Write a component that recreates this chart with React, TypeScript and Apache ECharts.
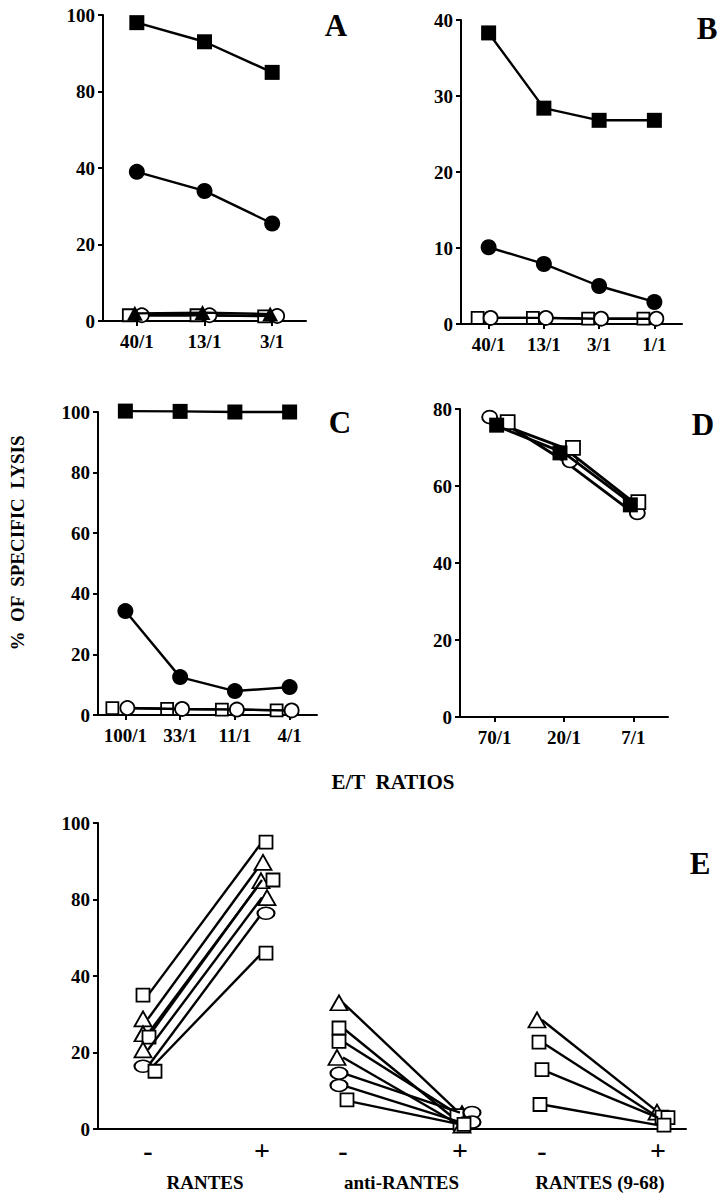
import React, { useEffect, useRef } from 'react';
import * as echarts from 'echarts';

// ---------- Panel A ----------
const catsA = ['40/1', '13/1', '3/1'];
const aFilledSquare = [98, 93, 85];
const aFilledCircle = [39, 34, 25.5];
const aOpenSquare = [1.5, 1.5, 1.2];
const aOpenCircle = [1.5, 1.5, 1.3];
const aFilledTriangle = [2.0, 2.2, 1.8];

// ---------- Panel B ----------
const catsB = ['40/1', '13/1', '3/1', '1/1'];
const bFilledSquare = [38.3, 28.4, 26.8, 26.8];
const bFilledCircle = [10.1, 7.9, 5.0, 2.9];
const bOpenSquare = [0.8, 0.8, 0.7, 0.7];
const bOpenCircle = [0.8, 0.8, 0.7, 0.7];

// ---------- Panel C ----------
const catsC = ['100/1', '33/1', '11/1', '4/1'];
const cFilledSquare = [100.3, 100.2, 100, 100];
const cFilledCircle = [34.3, 12.5, 7.9, 9.2];
const cOpenSquare = [2.3, 2.0, 1.8, 1.5];
const cOpenCircle = [2.3, 2.0, 1.8, 1.5];

// ---------- Panel D ----------
const catsD = ['70/1', '20/1', '7/1'];
const dOpenCircle = [77.9, 66.5, 53];
const dFilledSquare = [75.8, 68.6, 55.1];
const dOpenSquare = [76.6, 69.9, 55.8];

// ---------- Panel E ----------
const eCats = ['-', '+'];
const eGroups = ['RANTES', 'anti-RANTES', 'RANTES (9-68)'];
const eRantes = [
  [35, 95],
  [28.8, 89.7],
  [24.9, 84.9],
  [24.0, 85.1],
  [20.7, 80.5],
  [16.4, 72.8],
  [15.1, 52],
];
const eAntiRantes = [
  [33, 4],
  [26.4, 1.5],
  [22.9, 3.5],
  [18.7, 1.0],
  [14.6, 4.3],
  [11.4, 1.8],
  [7.6, 1.2],
];
const eRantes968 = [
  [28.5, 4.4],
  [22.7, 3.1],
  [15.5, 3.0],
  [6.4, 1.0],
];

// tick labels of the broken axes (A and E): 60 is skipped
const brokenTicks = ['0', '20', '40', '80', '100'];

// ---------- styles ----------
const FONT = '"Liberation Serif", "Times New Roman", serif';
const ELLIPSE =
  'path://M10,0C15.5,0,20,4.5,20,10C20,15.5,15.5,20,10,20C4.5,20,0,15.5,0,10C0,4.5,4.5,0,10,0Z';

type Marker = { symbol: string; size: any; fill: string; open: boolean };
const MK: Record<string, Marker> = {
  fsq: { symbol: 'rect', size: 15, fill: '#000', open: false },
  fci: { symbol: 'circle', size: 16, fill: '#000', open: false },
  ftr: { symbol: 'triangle', size: [16, 15], fill: '#000', open: false },
  osq: { symbol: 'rect', size: 12, fill: '#fff', open: true },
  oci: { symbol: 'circle', size: 14, fill: '#fff', open: true },
  Esq: { symbol: 'rect', size: 13, fill: '#fff', open: true },
  Etr: { symbol: 'triangle', size: [17, 15], fill: '#fff', open: true },
  Eel: { symbol: ELLIPSE, size: [17, 12], fill: '#fff', open: true },
  Dosq: { symbol: 'rect', size: 14, fill: '#fff', open: true },
  Doci: { symbol: ELLIPSE, size: [15, 13], fill: '#fff', open: true },
};

const eRantesMarkers = ['Esq', 'Etr', 'Etr', 'Esq', 'Etr', 'Eel', 'Esq'];
const eRantesOffsets = [[-5, 4], [-5, 1], [-5, -1], [1, 11], [-5, 5], [-5, 4], [7, 4]];
const eAntiMarkers = ['Etr', 'Esq', 'Esq', 'Etr', 'Eel', 'Eel', 'Esq'];
const eAntiOffsets = [[-4, 2], [-4, 0], [-4, -3], [-6, 2], [-4, 12], [-4, 12], [4, 4]];
const e968Markers = ['Etr', 'Esq', 'Esq', 'Esq'];
const e968Offsets = [[-5, -1], [-3, 4], [0, 10], [-2, 6]];

// broken axis: 40 -> 80 is compressed into one tick interval
const brk = (v: number) => (v <= 40 ? v : v >= 80 ? v - 20 : 40 + (v - 40) / 2);
const ident = (v: number) => v;

const LW = 2.4;

function series(
  values: number[],
  axis: number,
  m: Marker,
  offsets: number[] | null,
  tf: (v: number) => number,
  lineWidth = LW,
  z = 2
) {
  return {
    type: 'line',
    xAxisIndex: axis,
    yAxisIndex: axis,
    clip: false,
    silent: true,
    z,
    symbol: m.symbol,
    symbolSize: m.size,
    showSymbol: true,
    data: values.map((v, i) => ({
      value: tf(v),
      symbolOffset: [offsets ? offsets[i] : 0, 0],
    })),
    itemStyle: {
      color: m.fill,
      borderColor: '#000',
      borderWidth: m.open ? 1.8 : 0,
      opacity: 1,
    },
    lineStyle: { color: '#000', width: lineWidth },
    emphasis: { disabled: true },
  };
}

const labelStyle = { color: '#000', fontFamily: FONT, fontWeight: 'bold', fontSize: 19 };
const axisLine = { show: true, onZero: false, lineStyle: { color: '#000', width: 2 } };

function catAxis(data: string[], idx: number) {
  return {
    type: 'category',
    gridIndex: idx,
    data,
    boundaryGap: true,
    axisLine,
    axisTick: { show: true, alignWithLabel: true, length: 5, lineStyle: { color: '#000', width: 2 } },
    axisLabel: { ...labelStyle, margin: 11, interval: 0 },
    splitLine: { show: false },
  };
}

function valAxis(idx: number, max: number, interval: number, labels?: string[]) {
  return {
    type: 'value',
    gridIndex: idx,
    min: 0,
    max,
    interval,
    axisLine,
    axisTick: { show: true, length: 5, lineStyle: { color: '#000', width: 2 } },
    axisLabel: {
      ...labelStyle,
      margin: 8,
      formatter: labels ? (v: number) => labels[Math.round(v / interval)] : undefined,
    },
    splitLine: { show: false },
  };
}

export default function App() {
  const ref = useRef<HTMLDivElement>(null);

  useEffect(() => {
    if (!ref.current) return;
    const chart = echarts.init(ref.current, null, { renderer: 'svg' });

    const grids = [
      { left: 103, top: 15, width: 203, height: 306 }, // A
      { left: 461, top: 20, width: 221, height: 304 }, // B
      { left: 98, top: 412, width: 219, height: 303 }, // C
      { left: 460, top: 409, width: 208, height: 308 }, // D
      { left: 98, top: 823, width: 588, height: 306 }, // E main
      { left: 148, top: 823, width: 114, height: 306 }, // E RANTES
      { left: 343, top: 823, width: 117, height: 306 }, // E anti-RANTES
      { left: 542, top: 823, width: 116, height: 306 }, // E RANTES (9-68)
    ].map((g) => ({ ...g, outerBoundsMode: 'none', containLabel: false }));

    const eSubX = eGroups.map((name, i) => ({
      type: 'category',
      gridIndex: 5 + i,
      data: eCats,
      boundaryGap: false,
      axisLine: { show: false },
      axisTick: { show: false },
      axisLabel: { color: '#000', fontFamily: FONT, fontWeight: 'bold', fontSize: 28, margin: 7, interval: 0 },
      splitLine: { show: false },
      name,
      nameLocation: 'middle',
      nameGap: 44,
      nameTextStyle: { color: '#000', fontFamily: FONT, fontWeight: 'bold', fontSize: 19 },
    }));
    const eSubY = eGroups.map((_, i) => ({
      type: 'value',
      gridIndex: 5 + i,
      min: 0,
      max: 80,
      show: false,
    }));

    const xAxis = [
      catAxis(catsA, 0),
      catAxis(catsB, 1),
      catAxis(catsC, 2),
      catAxis(catsD, 3),
      {
        type: 'value',
        gridIndex: 4,
        min: 0,
        max: 1,
        axisLine,
        axisTick: { show: false },
        axisLabel: { show: false },
        splitLine: { show: false },
      },
      ...eSubX,
    ];
    const yAxis = [
      valAxis(0, 80, 20, brokenTicks),
      valAxis(1, 40, 10),
      valAxis(2, 100, 20),
      valAxis(3, 80, 20),
      valAxis(4, 80, 20, brokenTicks),
      ...eSubY,
    ];

    const eSeries = (
      rows: number[][],
      axis: number,
      markers: string[],
      offsets: number[][]
    ) =>
      rows.map((r, i) => {
        const s: any = series(r, axis, MK[markers[i]], null, brk, LW, 3 + i);
        s.data = r.map((v, j) => ({ value: brk(v), symbolOffset: [offsets[i][j], 0] }));
        return s;
      });

    const seriesList = [
      // A
      series(aFilledSquare, 0, MK.fsq, null, brk),
      series(aFilledCircle, 0, MK.fci, null, brk),
      series(aOpenSquare, 0, MK.osq, [-8, -8, -8], brk, LW, 3),
      series(aOpenCircle, 0, MK.oci, [5, 5, 5], brk, LW, 4),
      series(aFilledTriangle, 0, MK.ftr, [-2, -2, -2], brk, LW, 5),
      // B
      series(bFilledSquare, 1, MK.fsq, null, ident),
      series(bFilledCircle, 1, MK.fci, null, ident),
      series(bOpenSquare, 1, MK.osq, [-11, -11, -11, -11], ident, LW, 3),
      series(bOpenCircle, 1, MK.oci, [2, 2, 2, 2], ident, LW, 4),
      // C
      series(cFilledSquare, 2, MK.fsq, null, ident),
      series(cFilledCircle, 2, MK.fci, null, ident),
      series(cOpenSquare, 2, MK.osq, [-13, -13, -13, -13], ident, LW, 3),
      series(cOpenCircle, 2, MK.oci, [2, 2, 2, 2], ident, LW, 4),
      // D
      series(dOpenCircle, 3, MK.Doci, [-5, 6, 4], ident, 2.8, 2),
      series(dOpenSquare, 3, MK.Dosq, [13, 9, 5], ident, 2.8, 3),
      series(dFilledSquare, 3, MK.fsq, [2, -4, -3], ident, 2.8, 4),
      // E
      ...eSeries(eRantes, 5, eRantesMarkers, eRantesOffsets),
      ...eSeries(eAntiRantes, 6, eAntiMarkers, eAntiOffsets),
      ...eSeries(eRantes968, 7, e968Markers, e968Offsets),
    ];

    const letter = (t: string, x: number, y: number) => ({
      type: 'text',
      x,
      y,
      silent: true,
      style: {
        text: t,
        fill: '#000',
        font: `bold 31px ${FONT}`,
        align: 'center',
        verticalAlign: 'middle',
        textAlign: 'center',
        textVerticalAlign: 'middle',
      },
    });

    chart.setOption({
      animation: false,
      backgroundColor: '#fff',
      grid: grids,
      xAxis,
      yAxis,
      series: seriesList,
      graphic: [
        letter('A', 336, 25),
        letter('B', 707, 28),
        letter('C', 340, 422),
        letter('D', 703, 424),
        letter('E', 700, 863),
        {
          type: 'text',
          x: 17,
          y: 543,
          rotation: Math.PI / 2,
          silent: true,
          style: {
            text: '%  OF  SPECIFIC  LYSIS',
            fill: '#000',
            font: `bold 19px ${FONT}`,
            align: 'center',
            verticalAlign: 'middle',
            textAlign: 'center',
            textVerticalAlign: 'middle',
          },
        },
        {
          type: 'text',
          x: 393,
          y: 782,
          silent: true,
          style: {
            text: 'E/T  RATIOS',
            fill: '#000',
            font: `bold 21px ${FONT}`,
            align: 'center',
            verticalAlign: 'middle',
            textAlign: 'center',
            textVerticalAlign: 'middle',
          },
        },
      ],
    });

    return () => chart.dispose();
  }, []);

  return (
    <div
      ref={ref}
      style={{ position: 'absolute', left: 0, top: 0, width: 723, height: 1199, background: '#fff' }}
    />
  );
}
